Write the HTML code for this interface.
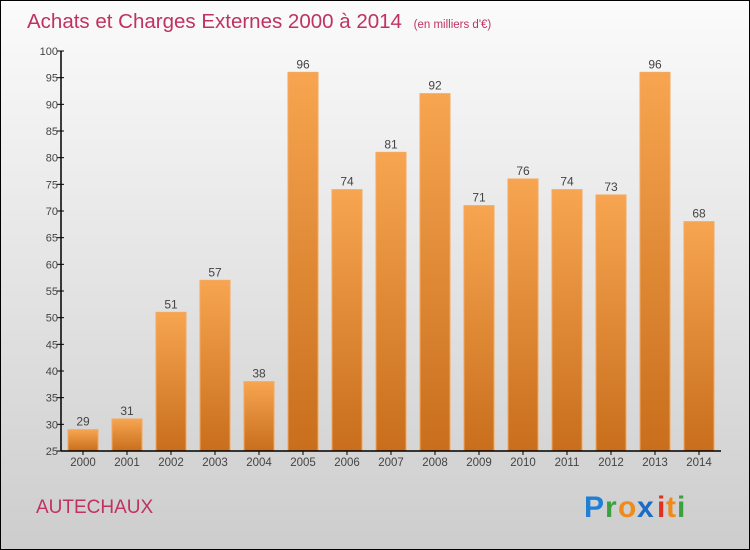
<!DOCTYPE html>
<html><head><meta charset="utf-8"><style>
body{margin:0;}
#c{position:relative;width:750px;height:550px;overflow:hidden;}
text{font-family:"Liberation Sans",sans-serif;}
</style></head><body>
<div id="c">
<svg id="s" width="750" height="550" xmlns="http://www.w3.org/2000/svg">
<defs>
<linearGradient id="bg" x1="0" y1="0" x2="0" y2="1"><stop offset="0" stop-color="#fbfbfb"/><stop offset="1" stop-color="#cdcdcd"/></linearGradient>
<linearGradient id="bar" x1="0" y1="0" x2="0" y2="1"><stop offset="0" stop-color="#f7a550"/><stop offset="1" stop-color="#c86e1c"/></linearGradient>
</defs>
<rect x="0.5" y="0.5" width="749" height="549" fill="url(#bg)" stroke="#000"/>
<text x="27" y="28" font-size="20.5" fill="#c0325f">Achats et Charges Externes 2000 à 2014 <tspan font-size="11.5" dx="6">(en milliers d'€)</tspan></text>
<text x="36" y="513" font-size="19" fill="#c0325f">AUTECHAUX</text>
<g font-size="30" font-weight="bold">
<text x="584" y="517" fill="#1e7fd6">P</text><text x="605" y="517" fill="#3aa040">r</text><text x="618" y="517" fill="#f08a1a">o</text><text x="637" y="517" fill="#1a6cc8">x</text><text x="657" y="517" fill="#e03020">i</text><text x="666" y="517" fill="#f08a1a">t</text><text x="677" y="517" fill="#3aa040">i</text>
</g>
<g id="g"></g>
</svg>
</div>
<script>
const years=["2000","2001","2002","2003","2004","2005","2006","2007","2008","2009","2010","2011","2012","2013","2014"];
const values=[29,31,51,57,38,96,74,81,92,71,76,74,73,96,68];
const ticks=[25,30,35,40,45,50,55,60,65,70,75,80,85,90,95,100];
const NS="http://www.w3.org/2000/svg";
const g=document.getElementById('g');
const X0=61,X1=721,Y0=451,Y1=51,vmin=25,vmax=100;
const y=v=>Y0-(v-vmin)/(vmax-vmin)*(Y0-Y1);
const step=(X1-X0)/years.length;
function mk(t,a){const e=document.createElementNS(NS,t);for(const k in a)e.setAttribute(k,a[k]);g.appendChild(e);return e;}
ticks.forEach(t=>{
 const l=mk('line',{x1:X0-4,x2:X0+3,y1:y(t),y2:y(t),stroke:'#000'});
 
 
 const tx=mk('text',{x:X0-3,y:y(t)+4,'font-size':11,'text-anchor':'end',fill:'#444'});
 tx.textContent=t;
 
 
});
years.forEach((yr,i)=>{
 const cx=X0+step*(i+0.5);
 const r=mk('rect',{x:cx-15,y:y(values[i]),width:30,height:Y0-y(values[i]),fill:'url(#bar)',stroke:'#f4a860','stroke-width':1});
 
 
 const v=mk('text',{x:cx,y:y(values[i])-4,'font-size':12,'text-anchor':'middle',fill:'#444'});
 v.textContent=values[i];
 
 
 const tl=mk('line',{x1:cx,x2:cx,y1:Y0,y2:Y0+4,stroke:'#000'});
 
 
 const t=mk('text',{x:cx,y:Y0+15,'font-size':11.5,'text-anchor':'middle',fill:'#444'});
 t.textContent=yr;
 
 
});
const ya=mk('line',{x1:X0,x2:X0,y1:Y1,y2:Y0,stroke:'#000','stroke-width':1.5});


const xa=mk('line',{x1:X0,x2:X1,y1:Y0,y2:Y0,stroke:'#000','stroke-width':1.5});


</script>
</body></html>
